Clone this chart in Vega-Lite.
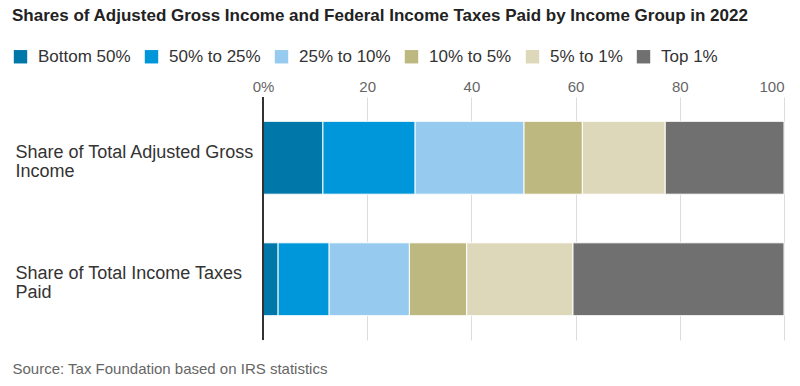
{
  "$schema": "https://vega.github.io/schema/vega-lite/v6.json",
  "width": 521,
  "height": 243,
  "autosize": {"type": "none"},
  "padding": {"left": 263, "top": 97, "right": 16, "bottom": 46},
  "background": "white",
  "config": {
    "font": "Liberation Sans",
    "view": {"stroke": null}
  },
  "title": {
    "text": "Shares of Adjusted Gross Income and Federal Income Taxes Paid by Income Group in 2022",
    "anchor": "start",
    "frame": "bounds",
    "fontSize": 17,
    "fontWeight": "bold",
    "color": "#222222",
    "offset": 23
  },
  "data": {
    "values": [
      {"measure": "Share of Total Adjusted Gross Income", "group": "Bottom 50%", "share": 11.5, "rank": 1},
      {"measure": "Share of Total Adjusted Gross Income", "group": "50% to 25%", "share": 17.7, "rank": 2},
      {"measure": "Share of Total Adjusted Gross Income", "group": "25% to 10%", "share": 20.9, "rank": 3},
      {"measure": "Share of Total Adjusted Gross Income", "group": "10% to 5%", "share": 11.2, "rank": 4},
      {"measure": "Share of Total Adjusted Gross Income", "group": "5% to 1%", "share": 15.9, "rank": 5},
      {"measure": "Share of Total Adjusted Gross Income", "group": "Top 1%", "share": 22.8, "rank": 6},
      {"measure": "Share of Total Income Taxes Paid", "group": "Bottom 50%", "share": 2.9, "rank": 1},
      {"measure": "Share of Total Income Taxes Paid", "group": "50% to 25%", "share": 9.8, "rank": 2},
      {"measure": "Share of Total Income Taxes Paid", "group": "25% to 10%", "share": 15.4, "rank": 3},
      {"measure": "Share of Total Income Taxes Paid", "group": "10% to 5%", "share": 11.0, "rank": 4},
      {"measure": "Share of Total Income Taxes Paid", "group": "5% to 1%", "share": 20.4, "rank": 5},
      {"measure": "Share of Total Income Taxes Paid", "group": "Top 1%", "share": 40.5, "rank": 6}
    ]
  },
  "layer": [
    {
      "mark": {"type": "bar", "stroke": "white", "strokeWidth": 1},
      "encoding": {
        "y": {
          "field": "measure",
          "type": "nominal",
          "sort": ["Share of Total Adjusted Gross Income", "Share of Total Income Taxes Paid"],
          "scale": {"paddingInner": 0.4, "paddingOuter": 0.2},
          "axis": {
            "title": null,
            "domain": false,
            "ticks": false,
            "tickSize": 0,
            "labelAlign": "left",
            "labelPadding": 248,
            "labelFontSize": 18,
            "labelColor": "#333333",
            "labelLimit": 300,
            "labelLineHeight": 19,
            "labelOffset": -5,
            "labelExpr": "datum.value == 'Share of Total Adjusted Gross Income' ? ['Share of Total Adjusted Gross', 'Income'] : ['Share of Total Income Taxes', 'Paid']"
          }
        },
        "x": {
          "field": "share",
          "type": "quantitative",
          "stack": "zero",
          "scale": {"domain": [0, 100], "nice": false},
          "axis": {
            "orient": "top",
            "title": null,
            "domain": false,
            "ticks": false,
            "values": [0, 20, 40, 60, 80, 100],
            "grid": true,
            "gridColor": "#dddddd",
            "gridWidth": 1,
            "labelFontSize": 15,
            "labelColor": "#666666",
            "labelPadding": 3,
            "labelAlign": {"condition": {"test": "datum.value == 100", "value": "right"}, "value": "center"},
            "labelExpr": "datum.value == 0 ? '0%' : datum.label"
          }
        },
        "color": {
          "field": "group",
          "type": "nominal",
          "scale": {
            "domain": ["Bottom 50%", "50% to 25%", "25% to 10%", "10% to 5%", "5% to 1%", "Top 1%"],
            "range": ["#0077a9", "#0097da", "#96caee", "#bdb880", "#ddd8b9", "#707070"]
          },
          "legend": {
            "title": null,
            "orient": "none",
            "direction": "horizontal",
            "columns": 6,
            "legendX": -251,
            "legendY": -49,
            "symbolType": "square",
            "symbolSize": 180,
            "symbolStrokeWidth": 0,
            "symbolOpacity": 1,
            "labelFontSize": 17,
            "labelColor": "#333333",
            "labelOffset": 9,
            "columnPadding": 12
          }
        },
        "order": {"field": "rank", "type": "quantitative"}
      }
    },
    {
      "mark": {"type": "rule", "color": "#333333", "strokeWidth": 1.5},
      "encoding": {
        "x": {
          "datum": 0,
          "type": "quantitative",
          "axis": {
            "orient": "bottom",
            "grid": false,
            "domain": false,
            "ticks": false,
            "labels": false,
            "title": "Source: Tax Foundation based on IRS statistics",
            "titleFontSize": 15,
            "titleFontWeight": "normal",
            "titleColor": "#666666",
            "titleX": -251,
            "titleY": 28,
            "titleAlign": "left",
            "titleBaseline": "middle",
            "titleAnchor": "start"
          }
        }
      }
    }
  ]
}
